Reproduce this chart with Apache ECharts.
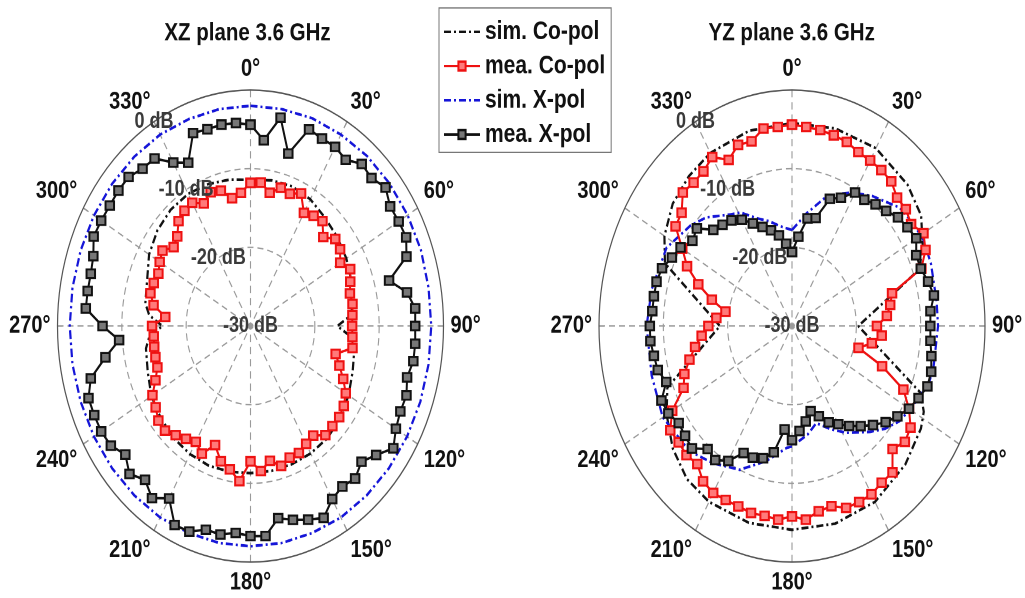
<!DOCTYPE html>
<html>
<head>
<meta charset="utf-8">
<script src="https://cdn.jsdelivr.net/npm/echarts@6/dist/echarts.min.js"></script>
<style>
html,body{margin:0;padding:0;background:#fff;overflow:hidden;}
#wrap{width:1025px;height:598px;overflow:hidden;background:#fff;}
#main{width:1025px;height:489px;transform:scaleY(1.2229);transform-origin:0 0;}
</style>
</head>
<body>
<div id="wrap"><div id="main"></div></div>
<script>
// ---------------- DATA ----------------
const titles = ['XZ plane 3.6 GHz', 'YZ plane 3.6 GHz'];
const seriesNames = ['sim. Co-pol', 'mea. Co-pol', 'sim. X-pol', 'mea. X-pol'];
const angleTicks = [0, 30, 60, 90, 120, 150, 180, 210, 240, 270, 300, 330];
const dbTicks = [-30, -20, -10, 0];

// measured angles (deg, clockwise from top)
const measAngles = [0,5,10,15,20,25,30,35,40,45,50,55,60,65,70,75,80,85,90,95,100,105,110,115,
  120,125,130,135,140,145,150,155,160,165,170,175,180,185,190,195,200,205,210,215,220,225,230,235,
  240,245,250,255,260,265,270,275,280,285,290,295,300,305,310,315,320,325,330,335,340,345,350,355];

// XZ plane
const xzMeaCo = [-11.8,-11.7,-12.8,-11.8,-12.1,-11.4,-13.4,-12.9,-12.6,-14.0,-12.8,-13.0,
  -13.9,-12.9,-13.5,-14.0,-13.9,-14.1,-14.2,-14.1,-13.9,-16.3,-15.3,-14.1,
  -12.9,-12.3,-12.0,-12.0,-11.9,-13.0,-12.7,-12.2,-12.2,-11.6,-12.6,-11.5,
  -12.8,-10.2,-11.5,-12.2,-13.9,-12.1,-13.0,-12.5,-11.9,-11.2,-11.3,-12.0,
  -12.4,-13.7,-14.6,-14.7,-14.8,-14.9,-14.7,-16.7,-14.7,-13.9,-14.0,-14.2,
  -13.7,-13.3,-14.4,-13.9,-12.6,-12.1,-11.9,-12.8,-11.9,-12.2,-13.5,-13.0];
const xzMeaX = [-4.4,-6.3,-3.1,-7.3,-3.4,-3.7,-3.7,-4.2,-3.1,-3.4,-2.6,-3.5,
  -3.4,-3.3,-4.2,-7.7,-5.3,-4.3,-4.4,-4.3,-4.3,-4.8,-4.2,-4.3,
  -3.9,-2.9,-4.5,-5.6,-4.7,-5.1,-4.6,-3.1,-3.8,-4.5,-5.2,-3.2,
  -3.3,-3.6,-3.1,-3.2,-2.2,-2.1,-4.7,-3.3,-4.5,-3.4,-4.6,-3.5,
  -3.2,-3.2,-3.2,-4.3,-7.1,-9.5,-7.0,-4.3,-4.3,-4.3,-4.0,-3.1,
  -3.2,-3.3,-3.2,-3.2,-3.9,-4.0,-6.0,-7.1,-3.9,-4.1,-4.0,-4.1];
const xzSimCoAngles = [0,10,20,30,40,50,60,70,80,85,90,95,100,110,120,130,140,150,160,170,
  180,190,200,210,220,230,240,250,260,265,270,275,280,290,300,310,320,330,340,350,360];
const xzSimCo = [-11.4,-11.2,-11.1,-11.4,-12.0,-12.4,-12.8,-13.3,-13.9,-14.3,
  -16.5,-14.3,-13.6,-13.1,-12.4,-11.8,-11.4,-11.3,-11.3,-11.3,
  -11.3,-11.2,-11.1,-11.2,-11.4,-11.8,-12.2,-13.0,-13.5,-14.2,
  -16.3,-14.2,-13.4,-12.9,-11.8,-11.1,-10.7,-10.6,-10.8,-11.1,-11.4];
const xzSimXAngles = [0,10,20,30,40,50,60,70,80,90,100,110,120,130,140,150,160,170,180,
  190,200,210,220,230,240,250,260,270,280,290,300,310,320,330,340,350,360];
const xzSimX = [-2.0,-2.0,-1.9,-1.9,-1.8,-1.8,-1.8,-1.8,-1.9,-1.9,-1.9,-1.9,-1.9,-1.9,-1.9,-1.9,-2.0,-2.0,-2.0,
  -2.0,-2.0,-1.9,-1.9,-1.9,-1.9,-1.9,-1.9,-1.9,-1.9,-1.9,-1.9,-1.9,-1.9,-1.9,-2.0,-2.0,-2.0];

// YZ plane
const yzMeaCo = [-4.4,-4.6,-4.7,-4.9,-5.1,-5.6,-5.7,-5.8,-6.0,-6.9,-6.9,-7.4,
  -6.4,-7.1,-8.6,-13.9,-14.5,-15.2,-16.8,-16.0,-17.4,-19.3,-15.1,-10.9,
  -9.0,-7.5,-7.1,-7.9,-5.7,-5.7,-5.3,-5.3,-5.4,-6.3,-6.1,-5.3,
  -5.8,-5.3,-5.5,-5.4,-5.6,-5.6,-5.5,-5.9,-7.1,-6.8,-7.0,-6.9,
  -8.5,-11.4,-12.2,-13.5,-14.7,-15.9,-17.0,-18.2,-19.5,-17.1,-14.5,-12.0,
  -10.3,-7.9,-7.6,-6.0,-6.2,-6.0,-5.2,-6.7,-5.5,-5.7,-4.5,-4.6];
const yzMeaX = [-20.6,-18.6,-16.1,-15.8,-12.8,-12.0,-10.4,-10.4,-9.8,-9.3,-8.5,-8.1,
  -7.7,-8.7,-8.7,-8.1,-7.6,-8.4,-8.5,-8.4,-8.0,-7.6,-7.6,-8.3,
  -9.0,-10.0,-11.0,-12.2,-13.4,-14.5,-15.6,-16.5,-17.8,-18.8,-17.7,-16.6,
  -15.5,-16.8,-13.7,-12.6,-12.2,-12.2,-10.2,-9.2,-9.6,-8.0,-8.3,-8.5,
  -7.8,-7.6,-9.2,-8.4,-8.2,-7.9,-7.9,-8.2,-8.2,-8.2,-8.5,-9.4,
  -10.0,-11.1,-10.7,-12.7,-13.2,-13.6,-14.4,-15.6,-16.6,-17.4,-18.3,-19.5];
const yzSimCoAngles = [0,15,30,45,55,63,70,90,113,118,123,135,150,165,180,195,210,220,230,240,248,270,292,300,310,320,330,345,360];
const yzSimCo = [-4.2,-4.0,-3.9,-4.6,-5.5,-7.2,-8.9,-19.7,-8.3,-6.8,-6.1,-5.1,-4.2,-4.0,-4.1,-4.1,-4.2,-4.6,-5.8,-7.5,-9.1,-18.8,-8.7,-7.1,-5.8,-5.1,-4.6,-4.3,-4.2];
const yzSimXAngles = [0,9,18,24,29,37,48,55,62,70,82,90,97,103,108,114,120,126,132,138,
  148,155,163,170,180,183,193,204,215,225,240,254,270,282,297,309,316,326,331,338,345,352,360];
const yzSimX = [-17.8,-15.5,-12.7,-11.6,-10.6,-9.3,-7.5,-7.1,-6.8,-7.0,-7.3,-7.3,-7.5,-7.4,-7.5,-8.2,-8.8,-9.4,-10.5,-11.9,
  -14.0,-15.5,-17.1,-16.0,-14.7,-14.5,-12.4,-10.0,-8.7,-7.5,-6.8,-7.3,-7.4,-7.7,-8.1,-9.7,-10.8,-12.9,-13.5,-15.2,-16.2,-17.2,-17.8];

// ---------------- CHART ----------------
const FONT = "'Liberation Sans', Arial, Helvetica, sans-serif";
const CY = 266.6, R = 193;
const centers = [[250.5, CY], [792, CY]];

function pairs(angles, values, close) {
  const d = angles.map((a, i) => [values[i], a]);
  if (close) d.push([values[0], 360]);
  return d;
}

const chart = echarts.init(document.getElementById('main'), null, {renderer: 'canvas', devicePixelRatio: 2});

const polar = [];
const angleAxis = [];
const radiusAxis = [];
centers.forEach((c, k) => {
  polar.push({center: c, radius: R});
  angleAxis.push({
    polarIndex: k, type: 'value', min: 0, max: 360, interval: 30, startAngle: 90, clockwise: true,
    axisLine: {lineStyle: {color: '#555', width: 1.2}},
    axisTick: {show: true, inside: true, length: 5, lineStyle: {color: '#555', width: 1}},
    splitLine: {show: true, lineStyle: {color: '#9a9a9a', type: [6, 4], width: 1.1}},
    axisLabel: {margin: 7, fontSize: 20, fontWeight: 'bold', color: '#111', fontFamily: FONT,
      formatter: v => (angleTicks.indexOf(v) >= 0 ? v + '°' : '')}
  });
  radiusAxis.push({
    polarIndex: k, type: 'value', min: dbTicks[0], max: dbTicks[dbTicks.length - 1], interval: 10,
    axisLine: {show: false}, axisTick: {show: false}, axisLabel: {show: false},
    splitLine: {show: true, lineStyle: {color: ['#9a9a9a', '#9a9a9a', '#9a9a9a', 'rgba(0,0,0,0)'], type: [6, 4], width: 1.1}}
  });
});
// overlay polars only for the dB labels along the 330° spoke
centers.forEach((c, k) => {
  polar.push({center: c, radius: R});
  angleAxis.push({polarIndex: k + 2, type: 'value', min: 0, max: 360, startAngle: 120, clockwise: true, show: false});
  radiusAxis.push({
    polarIndex: k + 2, type: 'value', min: dbTicks[0], max: dbTicks[dbTicks.length - 1], interval: 10, z: 10,
    axisLine: {show: false}, axisTick: {show: false}, splitLine: {show: false},
    axisLabel: {show: true, margin: 0, align: 'center', verticalAlign: 'middle', formatter: '{value} dB',
      fontSize: 18, fontWeight: 'bold', color: '#3a3a3a', fontFamily: FONT, showMinLabel: true, showMaxLabel: true}
  });
});

function simSeries(name, pi, data, color) {
  return {type: 'line', name, coordinateSystem: 'polar', polarIndex: pi, data, symbol: 'none', showSymbol: false,
    lineStyle: {color, width: 2.2, type: [7, 3, 2, 3]}, itemStyle: {color}, z: 2, animation: false};
}
function meaSeries(name, pi, data, color, fill) {
  return {type: 'line', name, coordinateSystem: 'polar', polarIndex: pi, data, symbol: 'rect', symbolSize: [8.5, 7],
    showSymbol: true, lineStyle: {color, width: 2}, itemStyle: {color: fill, borderColor: color, borderWidth: 1.8},
    z: 3, animation: false};
}

const RED = '#ee1111', BLK = '#111111', BLUE = '#1515d8';
const series = [
  simSeries(seriesNames[0], 0, pairs(xzSimCoAngles, xzSimCo, false), BLK),
  meaSeries(seriesNames[1], 0, pairs(measAngles, xzMeaCo, true), RED, '#ff7a7a'),
  simSeries(seriesNames[2], 0, pairs(xzSimXAngles, xzSimX, false), BLUE),
  meaSeries(seriesNames[3], 0, pairs(measAngles, xzMeaX, true), BLK, '#777777'),
  simSeries(seriesNames[0], 1, pairs(yzSimCoAngles, yzSimCo, false), BLK),
  meaSeries(seriesNames[1], 1, pairs(measAngles, yzMeaCo, true), RED, '#ff7a7a'),
  simSeries(seriesNames[2], 1, pairs(yzSimXAngles, yzSimX, false), BLUE),
  meaSeries(seriesNames[3], 1, pairs(measAngles, yzMeaX, true), BLK, '#777777')
];

chart.setOption({
  backgroundColor: '#fff',
  animation: false,
  polar, angleAxis, radiusAxis, series,
  legend: {
    data: seriesNames.map(n => n.indexOf('sim.') === 0
      ? {name: n, itemStyle: {opacity: 0, borderWidth: 0}}
      : {name: n}),
    left: 439, top: 6.5, orient: 'vertical', selectedMode: false,
    itemWidth: 36, itemHeight: 9, itemGap: 7, padding: [9, 6, 4, 4],
    borderColor: '#777', borderWidth: 1, backgroundColor: '#fff',
    textStyle: {fontSize: 21, fontWeight: 'bold', color: '#111', fontFamily: FONT, lineHeight: 21}
  },
  graphic: titles.map((t, k) => ({
    type: 'text', x: [247.5, 791.7][k], y: 27.5, z: 20,
    style: {text: t, fontSize: 20.5, fontWeight: 'bold', fontFamily: FONT, fill: '#111',
      align: 'center', verticalAlign: 'middle', textAlign: 'center', textVerticalAlign: 'middle'}
  }))
});
</script>
</body>
</html>
